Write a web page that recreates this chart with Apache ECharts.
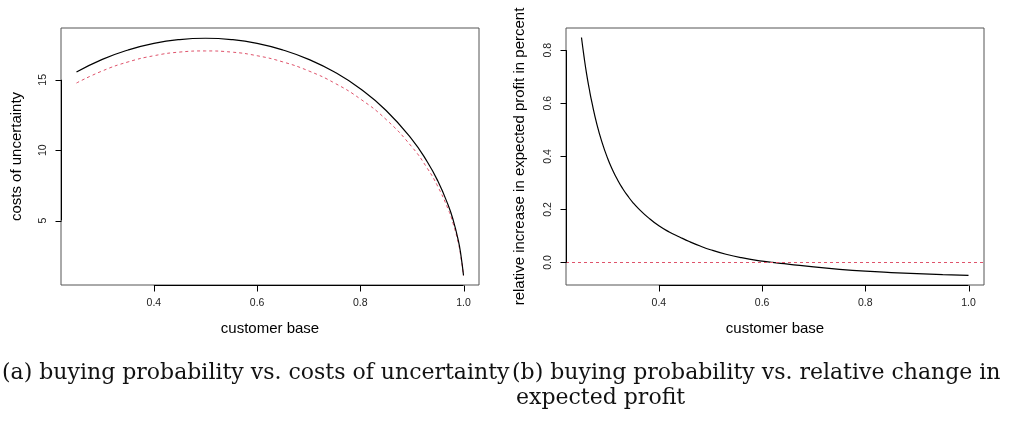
<!DOCTYPE html>
<html>
<head>
<meta charset="utf-8">
<script src="https://cdn.jsdelivr.net/npm/echarts@6/dist/echarts.min.js"></script>
<style>
  html, body { margin: 0; padding: 0; background: #fff; }
  #main { width: 1011px; height: 423px; }
</style>
</head>
<body>
<div id="main"></div>
<script>
// panel (a): customer base vs costs of uncertainty
var baseA = [0.25, 0.30, 0.35, 0.40, 0.45, 0.50, 0.55, 0.60, 0.65, 0.70, 0.75, 0.80, 0.85, 0.90, 0.93, 0.95, 0.97, 0.98, 0.99, 0.995, 1.0];
var costsSolid = [15.55, 16.45, 17.12, 17.59, 17.86, 17.95, 17.86, 17.59, 17.12, 16.45, 15.55, 14.36, 12.82, 10.77, 9.16, 7.82, 6.12, 5.03, 3.57, 2.53, 1.1];
var costsDashed = [14.77, 15.63, 16.27, 16.71, 16.97, 17.05, 16.97, 16.71, 16.27, 15.63, 14.77, 13.64, 12.18, 10.23, 8.70, 7.43, 5.82, 4.77, 3.39, 2.40, 1.08];

// panel (b): customer base vs relative increase in expected profit
var baseB = [0.25, 0.255, 0.26, 0.265, 0.27, 0.28, 0.29, 0.30, 0.31, 0.32, 0.33, 0.34, 0.35, 0.36, 0.38, 0.40, 0.42, 0.44, 0.46, 0.48, 0.50, 0.53, 0.56, 0.60, 0.62, 0.65, 0.70, 0.75, 0.80, 0.85, 0.90, 0.95, 1.0];
var profitIncrease = [0.848, 0.775, 0.71, 0.655, 0.605, 0.52, 0.452, 0.396, 0.35, 0.311, 0.278, 0.25, 0.225, 0.204, 0.168, 0.138, 0.115, 0.096, 0.078, 0.062, 0.048, 0.031, 0.018, 0.005, 0.0, -0.006, -0.017, -0.026, -0.033, -0.038, -0.042, -0.046, -0.049];
var zeroLine = 0;

var xTicks = [0.4, 0.6, 0.8, 1.0];
var yTicksA = [5, 10, 15];
var yTicksB = [0.0, 0.2, 0.4, 0.6, 0.8];

var captionA = "(a) buying probability vs. costs of uncertainty";
var captionB1 = "(b) buying probability vs. relative change in";
var captionB2 = "expected profit";

function pairs(xs, ys) {
  return xs.map(function (x, i) { return [x, ys[i]]; });
}

var sans = "'Liberation Sans', Arial, sans-serif";
var serif = "22px 'DejaVu Serif'";
var red = "#DF536B";
var xMin = 0.22, xMax = 1.03;
var rangeA = [0.42, 18.68];
var rangeB = [-0.085, 0.884];
var tickLen = 6;

function xAxisOf(idx) {
  return {
    type: "value",
    gridIndex: idx,
    min: xMin,
    max: xMax,
    name: "customer base",
    nameLocation: "middle",
    nameGap: 36,
    nameTextStyle: { fontFamily: sans, fontSize: 15, color: "#000" },
    axisLine: { show: false, onZero: false },
    axisTick: { show: false },
    axisLabel: {
      customValues: xTicks,
      margin: 13,
      fontFamily: sans,
      fontSize: 10.5,
      color: "#222",
      formatter: function (v) { return v.toFixed(1); }
    },
    splitLine: { show: false }
  };
}

function yAxisOf(idx, range, ticks, name, gap, fmt) {
  return {
    type: "value",
    gridIndex: idx,
    min: range[0],
    max: range[1],
    name: name,
    nameLocation: "middle",
    nameGap: gap,
    nameTextStyle: { fontFamily: sans, fontSize: 15, color: "#000" },
    axisLine: { show: false, onZero: false },
    axisTick: { show: false },
    axisLabel: {
      customValues: ticks,
      rotate: 90,
      margin: 12,
      fontFamily: sans,
      fontSize: 10.5,
      color: "#222",
      formatter: fmt
    },
    splitLine: { show: false }
  };
}

// R-style axes: a black segment from first to last tick plus outward ticks
function axisMarks(idx, yTicks, yMin) {
  return {
    type: "custom",
    xAxisIndex: idx,
    yAxisIndex: idx,
    silent: true,
    clip: false,
    z: 5,
    data: [[xMin, yMin]],
    renderItem: function (params, api) {
      var st = { stroke: "#000", lineWidth: 1 };
      var kids = [];
      var a = api.coord([xTicks[0], yMin]);
      var b = api.coord([xTicks[xTicks.length - 1], yMin]);
      var yb = Math.round(a[1]) + 0.5;
      kids.push({ type: "line", shape: { x1: a[0], y1: yb, x2: b[0], y2: yb }, style: st });
      xTicks.forEach(function (t) {
        var p = api.coord([t, yMin]);
        var x = Math.round(p[0]) + 0.5;
        kids.push({ type: "line", shape: { x1: x, y1: yb, x2: x, y2: yb + tickLen }, style: st });
      });
      var c = api.coord([xMin, yTicks[0]]);
      var d = api.coord([xMin, yTicks[yTicks.length - 1]]);
      var xl = Math.round(c[0]) + 0.5;
      kids.push({ type: "line", shape: { x1: xl, y1: c[1], x2: xl, y2: d[1] }, style: st });
      yTicks.forEach(function (t) {
        var p = api.coord([xMin, t]);
        var y = Math.round(p[1]) + 0.5;
        kids.push({ type: "line", shape: { x1: xl - tickLen, y1: y, x2: xl, y2: y }, style: st });
      });
      return { type: "group", children: kids };
    }
  };
}

var chart = echarts.init(document.getElementById("main"));

var option = {
  animation: false,
  backgroundColor: "#fff",
  grid: [
    { left: 61, top: 28, width: 418, height: 257, show: true, borderColor: "#555", borderWidth: 1 },
    { left: 566, top: 28, width: 418, height: 257, show: true, borderColor: "#555", borderWidth: 1 }
  ],
  xAxis: [xAxisOf(0), xAxisOf(1)],
  yAxis: [
    yAxisOf(0, rangeA, yTicksA, "costs of uncertainty", 37, function (v) { return String(v); }),
    yAxisOf(1, rangeB, yTicksB, "relative increase in expected profit in percent", 39, function (v) { return v.toFixed(1); })
  ],
  series: [
    {
      type: "line",
      xAxisIndex: 0,
      yAxisIndex: 0,
      data: pairs(baseA, costsDashed),
      showSymbol: false,
      smooth: true,
      lineStyle: { color: red, width: 1, type: [3, 3] }
    },
    {
      type: "line",
      xAxisIndex: 0,
      yAxisIndex: 0,
      data: pairs(baseA, costsSolid),
      showSymbol: false,
      smooth: true,
      lineStyle: { color: "#000", width: 1.2 }
    },
    {
      type: "line",
      xAxisIndex: 1,
      yAxisIndex: 1,
      data: pairs(baseB, profitIncrease),
      showSymbol: false,
      smooth: true,
      lineStyle: { color: "#000", width: 1.2 },
      markLine: {
        silent: true,
        symbol: "none",
        label: { show: false },
        lineStyle: { color: red, width: 1, type: [3, 3] },
        data: [{ yAxis: zeroLine }]
      }
    },
    axisMarks(0, yTicksA, rangeA[0]),
    axisMarks(1, yTicksB, rangeB[0])
  ],
  graphic: [
    { type: "text", left: 2, top: 362, style: { text: captionA, font: serif, fill: "#111" } },
    { type: "text", left: 512, top: 362, style: { text: captionB1, font: serif, fill: "#111" } },
    { type: "text", left: 516, top: 387, style: { text: captionB2, font: serif, fill: "#111" } }
  ]
};

chart.setOption(option);
</script>
</body>
</html>
